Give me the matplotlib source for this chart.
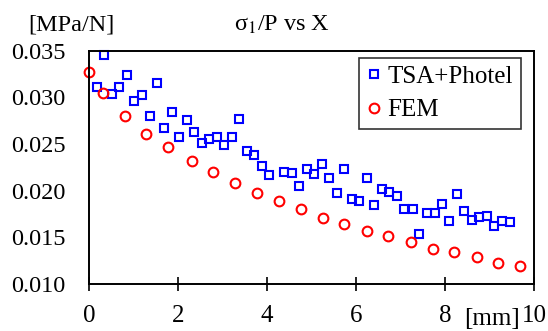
import matplotlib
matplotlib.use("Agg")
import matplotlib.pyplot as plt

plt.rcParams['font.family'] = ['Liberation Serif', 'DejaVu Serif']
plt.rcParams['mathtext.fontset'] = 'stix'

# TSA+Photel (measured)
tsa_x = [0.17, 0.34, 0.51, 0.67, 0.85, 1.01, 1.18, 1.36, 1.52, 1.69,
         1.86, 2.03, 2.20, 2.36, 2.53, 2.70, 2.87, 3.03, 3.21, 3.38,
         3.54, 3.71, 3.88, 4.05, 4.38, 4.56, 4.73, 4.89, 5.06, 5.23,
         5.40, 5.57, 5.74, 5.90, 6.07, 6.24, 6.40, 6.58, 6.75, 6.92,
         7.08, 7.27, 7.42, 7.59, 7.78, 7.94, 8.10, 8.26, 8.43, 8.60,
         8.77, 8.95, 9.11, 9.27, 9.45]
tsa_y = [0.0311, 0.0345, 0.0304, 0.0311, 0.0324, 0.0296, 0.0302, 0.0280, 0.0315, 0.0267,
         0.0284, 0.0258, 0.0276, 0.0263, 0.0251, 0.0255, 0.0257, 0.0249, 0.0257, 0.0277,
         0.0242, 0.0238, 0.0226, 0.0217, 0.0220, 0.0219, 0.0205, 0.0223, 0.0218, 0.0229,
         0.0214, 0.0197, 0.0223, 0.0191, 0.0189, 0.0214, 0.0185, 0.0202, 0.0199, 0.0194,
         0.0180, 0.0180, 0.0154, 0.0176, 0.0176, 0.0186, 0.0167, 0.0196, 0.0178, 0.0169,
         0.0172, 0.0173, 0.0162, 0.0167, 0.0166]

# FEM
fem_x = [0.0, 0.31, 0.81, 1.29, 1.78, 2.31, 2.78, 3.27, 3.77, 4.26, 4.77,
         5.25, 5.74, 6.24, 6.72, 7.23, 7.72, 8.20, 8.71, 9.19, 9.69]
fem_y = [0.0327, 0.0305, 0.0280, 0.0261, 0.0247, 0.0232, 0.0220, 0.0208, 0.0198, 0.0189, 0.0180,
         0.0171, 0.0164, 0.0157, 0.0151, 0.0145, 0.0138, 0.0134, 0.0129, 0.0123, 0.0119]

fig = plt.figure(figsize=(5.48, 3.31), dpi=100)
ax = fig.add_axes([89/548, 47/331, 445/548, 233.3/331])

ax.plot(tsa_x, tsa_y, 's', ms=6.3, mfc='none', mec='#0000ff', mew=1.5,
        label='TSA+Photel', clip_on=False)
ax.plot(fem_x, fem_y, 'o', ms=7, mfc='none', mec='#ff0000', mew=1.5,
        label='FEM', clip_on=False)

ax.set_xlim(0, 10)
ax.set_ylim(0.010, 0.035)
ax.set_xticks([0, 2, 4, 6, 8, 10])
ax.set_yticks([0.010, 0.015, 0.020, 0.025, 0.030, 0.035])
ax.set_yticklabels(['0.010', '0.015', '0.020', '0.025', '0.030', '0.035'])
ax.tick_params(axis='x', direction='inout', length=10.5, width=1.2, labelsize=18, pad=10)
ax.tick_params(axis='y', length=0, labelsize=17.5, pad=17)
for s in ax.spines.values():
    s.set_linewidth(1.4)

leg = ax.legend(loc='upper right', bbox_to_anchor=(0.97, 0.97), fontsize=18,
                frameon=True, fancybox=False, edgecolor='black', handlelength=0.6,
                handletextpad=0.25, borderpad=0.3, labelspacing=0.45, borderaxespad=0)
leg.get_frame().set_linewidth(1.2)

fig.text(71/548, 1 - 31/331, '[MPa/N]', fontsize=17.5, ha='center', va='baseline')
fig.text(282/548, 1 - 31/331, 'σ$_1$/P vs X', fontsize=17.5, ha='center', va='baseline')
fig.text(492/548, 1 - 325/331, '[mm]', fontsize=18, ha='center', va='baseline')

fig.savefig('out.png', dpi=100)
